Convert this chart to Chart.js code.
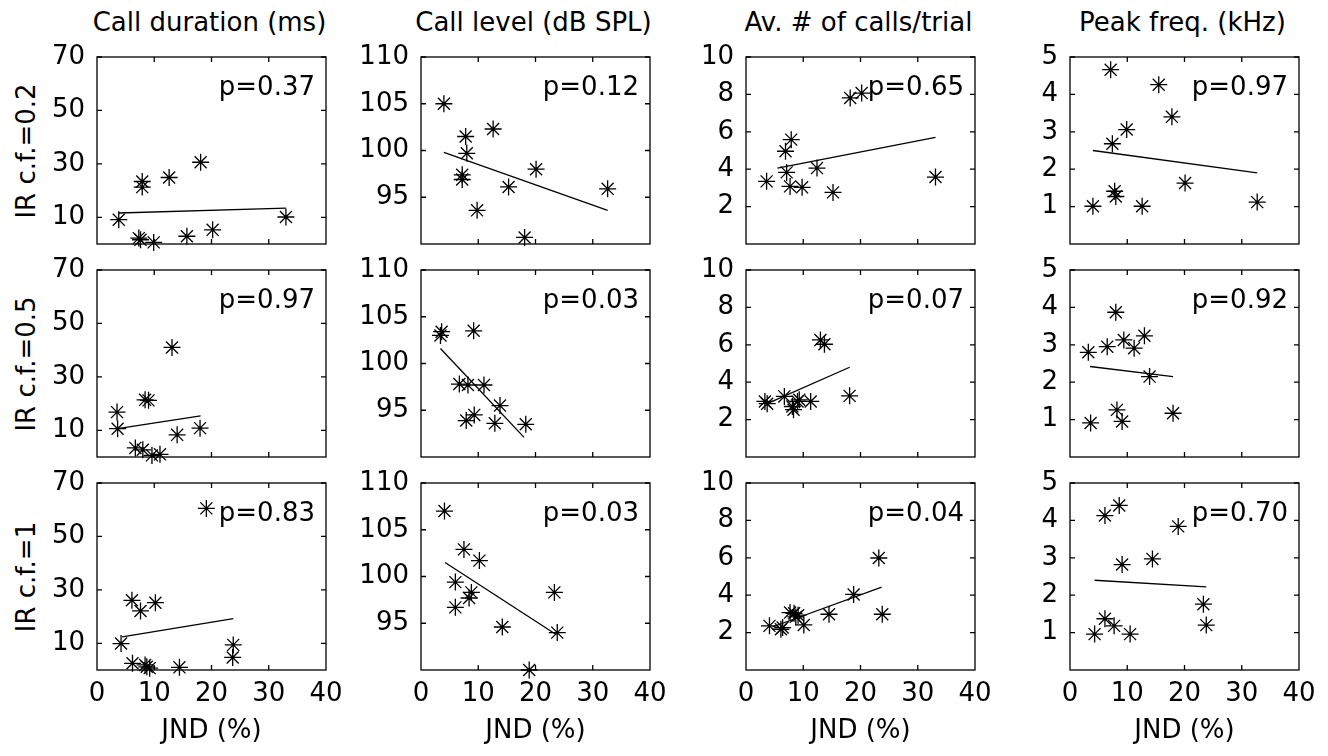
<!DOCTYPE html>
<html>
<head>
<meta charset="utf-8">
<script src="https://cdn.jsdelivr.net/npm/chart.js@4.4.0/dist/chart.umd.min.js"></script>
<style>
  body { margin: 0; background: #fff; width: 1328px; height: 756px; position: relative; overflow: hidden; font-family: "DejaVu Sans", sans-serif; }
  .panel { position: absolute; }
  .lbl { position: absolute; font-size: 26px; color: #000; white-space: nowrap; }
</style>
</head>
<body>
<script>
const colTitles = ['Call duration (ms)', 'Call level (dB SPL)', 'Av. # of calls/trial', 'Peak freq. (kHz)'];
const rowLabels = ['IR c.f.=0.2', 'IR c.f.=0.5', 'IR c.f.=1'];
const jndTicks = [0, 10, 20, 30, 40];

// call duration (ms), one row per IR c.f.
const durationJnd = [
  [3.8, 7.3, 7.6, 7.9, 7.9, 9.9, 12.6, 15.7, 18.1, 20.2, 33.0],
  [3.5, 3.6, 6.7, 8.0, 8.4, 9.0, 9.6, 11.0, 13.1, 14.0, 18.0],
  [4.2, 6.1, 7.6, 10.2, 6.2, 8.4, 8.7, 9.2, 14.4, 19.1, 23.8, 23.7]
];
const durationVal = [
  [9.1, 2.2, 1.6, 23.4, 21.3, 0.6, 24.9, 2.9, 30.6, 5.3, 10.1],
  [16.8, 10.6, 3.4, 2.7, 21.4, 21.2, 0.6, 1.0, 41.0, 8.3, 10.8],
  [9.9, 26.1, 22.1, 25.2, 2.5, 1.9, 1.2, 0.7, 1.0, 60.5, 9.4, 4.7]
];
const durationFitX = [[3.8, 33.0], [3.6, 18.1], [4.4, 23.8]];
const durationFitY = [[11.6, 13.4], [10.6, 15.4], [12.4, 19.2]];
const durationP = ['0.37', '0.97', '0.83'];
const durationTicks = [10, 30, 50, 70];
const durationRange = [0, 70];

// call level (dB SPL)
const levelJnd = [
  [4.0, 7.8, 8.0, 7.2, 7.2, 9.8, 12.6, 15.3, 18.1, 20.1, 32.6],
  [3.4, 3.6, 9.2, 6.7, 8.2, 11.0, 7.9, 9.3, 13.8, 12.9, 18.3],
  [4.1, 7.5, 10.2, 6.0, 6.0, 8.4, 8.8, 14.2, 18.9, 23.3, 23.8]
];
const levelVal = [
  [105.0, 101.5, 99.7, 97.4, 96.9, 93.6, 102.3, 96.1, 90.7, 98.0, 95.9],
  [103.0, 103.4, 103.5, 97.8, 97.7, 97.7, 93.9, 94.5, 95.5, 93.6, 93.5],
  [107.0, 102.9, 101.7, 99.4, 96.7, 97.7, 98.3, 94.6, 90.0, 98.3, 94.0]
];
const levelFitX = [[4.0, 32.6], [3.4, 18.0], [4.2, 23.6]];
const levelFitY = [[99.8, 93.6], [101.6, 92.1], [101.5, 93.8]];
const levelP = ['0.12', '0.03', '0.03'];
const levelTicks = [95, 100, 105, 110];
const levelRange = [90, 110];

// average number of calls per trial
const callsJnd = [
  [3.6, 6.9, 7.1, 7.7, 7.9, 9.8, 12.4, 15.2, 18.2, 20.2, 33.1],
  [3.3, 3.7, 6.7, 8.1, 8.3, 9.0, 9.3, 11.3, 13.0, 13.7, 18.1],
  [4.1, 6.1, 6.4, 7.7, 8.4, 8.7, 9.1, 10.1, 14.5, 18.8, 23.2, 23.8]
];
const callsVal = [
  [3.35, 4.96, 3.83, 3.08, 5.58, 3.03, 4.06, 2.76, 7.81, 8.07, 3.58],
  [2.97, 2.85, 3.24, 2.70, 2.53, 2.97, 3.06, 2.97, 6.26, 6.03, 3.27],
  [2.36, 2.18, 2.27, 3.07, 3.03, 2.84, 2.93, 2.41, 2.98, 4.04, 5.99, 2.98]
];
const callsFitX = [[5.5, 33.1], [3.7, 18.1], [4.6, 23.7]];
const callsFitY = [[4.06, 5.70], [2.85, 4.80], [2.30, 4.43]];
const callsP = ['0.65', '0.07', '0.04'];
const callsTicks = [2, 4, 6, 8, 10];
const callsRange = [0, 10];

// peak frequency (kHz)
const peakJnd = [
  [4.0, 7.1, 7.4, 7.8, 8.0, 9.9, 12.6, 15.5, 17.8, 20.1, 32.7],
  [3.2, 3.6, 6.5, 8.0, 8.2, 9.1, 9.4, 11.2, 13.0, 13.9, 18.0],
  [4.3, 6.1, 6.1, 8.6, 7.7, 10.5, 9.1, 14.4, 18.9, 23.3, 23.8]
];
const peakVal = [
  [1.01, 4.66, 2.68, 1.41, 1.27, 3.06, 1.01, 4.26, 3.40, 1.63, 1.12],
  [2.80, 0.91, 2.95, 3.87, 1.26, 0.95, 3.13, 2.91, 3.24, 2.15, 1.17],
  [0.96, 1.37, 4.13, 4.40, 1.18, 0.96, 2.82, 2.97, 3.84, 1.76, 1.20]
];
const peakFitX = [[4.0, 32.7], [3.5, 18.0], [4.3, 23.8]];
const peakFitY = [[2.50, 1.90], [2.42, 2.15], [2.40, 2.22]];
const peakP = ['0.97', '0.92', '0.70'];
const peakTicks = [1, 2, 3, 4, 5];
const peakRange = [0, 5];

const columns = [
  { jnd: durationJnd, val: durationVal, fx: durationFitX, fy: durationFitY, p: durationP, ticks: durationTicks, range: durationRange },
  { jnd: levelJnd, val: levelVal, fx: levelFitX, fy: levelFitY, p: levelP, ticks: levelTicks, range: levelRange },
  { jnd: callsJnd, val: callsVal, fx: callsFitX, fy: callsFitY, p: callsP, ticks: callsTicks, range: callsRange },
  { jnd: peakJnd, val: peakVal, fx: peakFitX, fy: peakFitY, p: peakP, ticks: peakTicks, range: peakRange }
];

// layout (px)
const boxLeft = [97, 421, 746, 1070];
const boxTop = [57, 270, 483];
const boxW = 229, boxH = 187;
const yAxisW = 90, padT = 16, padR = 26, padB = 14, xAxisH = 81;
const font = { family: '"DejaVu Sans", sans-serif', size: 26 };

// frame with inward ticks on all sides + p value
const boxPlugin = {
  id: 'box',
  afterDatasetsDraw(chart, args, opts) {
    const { ctx, chartArea: a, scales } = chart;
    ctx.save();
    ctx.strokeStyle = '#000';
    ctx.lineWidth = 1.3;
    ctx.strokeRect(a.left, a.top, a.right - a.left, a.bottom - a.top);
    ctx.beginPath();
    opts.xTicks.forEach(v => {
      const px = scales.x.getPixelForValue(v);
      ctx.moveTo(px, a.bottom); ctx.lineTo(px, a.bottom - 5);
      ctx.moveTo(px, a.top); ctx.lineTo(px, a.top + 5);
    });
    opts.yTicks.forEach(v => {
      const py = scales.y.getPixelForValue(v);
      ctx.moveTo(a.left, py); ctx.lineTo(a.left + 5, py);
      ctx.moveTo(a.right, py); ctx.lineTo(a.right - 5, py);
    });
    ctx.stroke();
    ctx.font = '26px "DejaVu Sans"';
    ctx.fillStyle = '#000';
    ctx.textAlign = 'right';
    ctx.textBaseline = 'alphabetic';
    ctx.fillText('p=' + opts.p, a.right - 11, a.top + 38);
    ctx.restore();
  }
};

function addLabel(text, x, y, rotate) {
  const d = document.createElement('div');
  d.className = 'lbl';
  d.textContent = text;
  d.style.left = x + 'px';
  d.style.top = y + 'px';
  d.style.transform = 'translate(-50%,-50%)' + (rotate ? ' rotate(-90deg)' : '');
  document.body.appendChild(d);
}

colTitles.forEach((t, c) => addLabel(t, boxLeft[c] + boxW / 2 - 2, 22, false));
rowLabels.forEach((t, r) => addLabel(t, 26, boxTop[r] + boxH / 2, true));

for (let r = 0; r < 3; r++) {
  for (let c = 0; c < 4; c++) {
    const col = columns[c];
    const isBottom = r === 2;
    const w = yAxisW + boxW + padR;
    const h = padT + boxH + (isBottom ? xAxisH : padB);
    const div = document.createElement('div');
    div.className = 'panel';
    div.style.left = (boxLeft[c] - yAxisW) + 'px';
    div.style.top = (boxTop[r] - padT) + 'px';
    div.style.width = w + 'px';
    div.style.height = h + 'px';
    const canvas = document.createElement('canvas');
    canvas.width = w; canvas.height = h;
    canvas.style.width = w + 'px'; canvas.style.height = h + 'px';
    div.appendChild(canvas);
    document.body.appendChild(div);

    const pts = col.jnd[r].map((x, i) => ({ x: x, y: col.val[r][i] }));
    const fit = col.fx[r].map((x, i) => ({ x: x, y: col.fy[r][i] }));

    new Chart(canvas, {
      type: 'scatter',
      data: {
        datasets: [
          {
            data: pts,
            pointStyle: 'star',
            pointRadius: 8.5,
            pointBorderWidth: 1.3,
            borderColor: '#000',
            backgroundColor: 'rgba(0,0,0,0)',
            clip: false
          },
          {
            type: 'line',
            data: fit,
            borderColor: '#000',
            borderWidth: 1.3,
            pointRadius: 0,
            fill: false,
            clip: false
          }
        ]
      },
      options: {
        responsive: false,
        animation: false,
        events: [],
        layout: { padding: { left: 0, right: padR, top: padT, bottom: isBottom ? 0 : padB } },
        plugins: {
          legend: { display: false },
          tooltip: { enabled: false },
          box: { xTicks: [10, 20, 30], yTicks: col.ticks, p: col.p[r] }
        },
        scales: {
          x: {
            type: 'linear',
            min: 0, max: 40,
            grid: { display: false, drawTicks: false },
            border: { display: false },
            ticks: { display: isBottom, font: font, color: '#000', padding: 9, maxRotation: 0, autoSkip: false },
            title: { display: isBottom, text: 'JND (%)', font: font, color: '#000', padding: { top: 0, bottom: 4 } },
            afterBuildTicks: s => { s.ticks = jndTicks.map(v => ({ value: v })); },
            afterFit: s => { s.height = isBottom ? xAxisH : 0; s.paddingLeft = 0; s.paddingRight = 0; }
          },
          y: {
            type: 'linear',
            min: col.range[0], max: col.range[1],
            grid: { display: false, drawTicks: false },
            border: { display: false },
            ticks: { font: font, color: '#000', padding: 12 },
            afterBuildTicks: s => { s.ticks = col.ticks.map(v => ({ value: v })); },
            afterFit: s => { s.width = yAxisW; s.paddingTop = 0; s.paddingBottom = 0; }
          }
        }
      },
      plugins: [boxPlugin]
    });
  }
}
</script>
</body>
</html>
